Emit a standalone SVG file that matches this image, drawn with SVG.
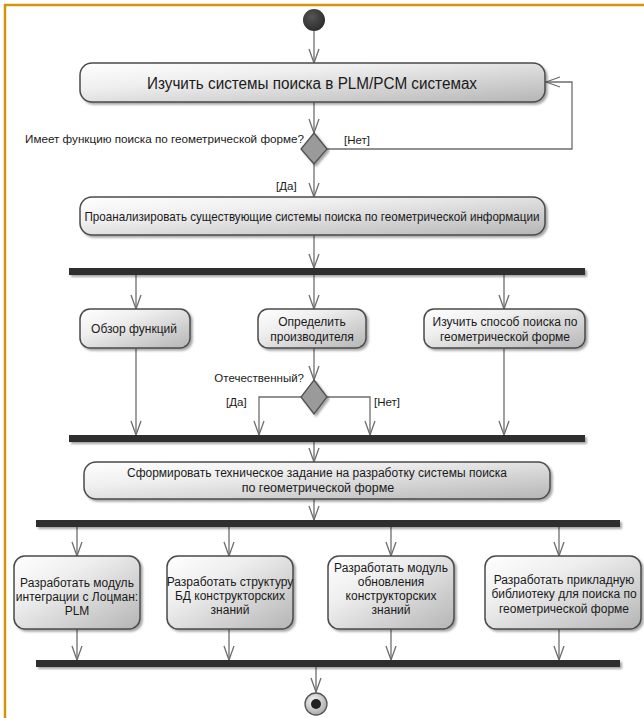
<svg xmlns="http://www.w3.org/2000/svg" width="644" height="718" viewBox="0 0 644 718">
<style>
.box{fill:url(#boxGrad);stroke:#4a4a4a;stroke-width:1.5;filter:url(#shadow)}
.bar{fill:#2f2f2f;filter:url(#shadow)}
.dia{fill:#9a9a9a;stroke:#505050;stroke-width:1.3;filter:url(#shadow)}
.conn{fill:none;stroke:#6e6e6e;stroke-width:1.3;marker-end:url(#arr)}
text{font-family:"Liberation Sans",Arial,sans-serif;fill:#1a1a1a}
.t{font-size:12px;text-anchor:middle}
.lbl{font-size:11.5px}
</style>
<defs>
<linearGradient id="boxGrad" x1="0" y1="0" x2="1" y2="1">
<stop offset="0" stop-color="#ffffff"/>
<stop offset="0.35" stop-color="#eeeeee"/>
<stop offset="1" stop-color="#b5b5b5"/>
</linearGradient>
<radialGradient id="startGrad" cx="0.4" cy="0.35" r="0.7">
<stop offset="0" stop-color="#555"/>
<stop offset="1" stop-color="#2a2a2a"/>
</radialGradient>
<radialGradient id="endGrad" cx="0.4" cy="0.35" r="0.7">
<stop offset="0" stop-color="#f4f4f4"/>
<stop offset="1" stop-color="#a8a8a8"/>
</radialGradient>
<filter id="shadow" x="-10%" y="-30%" width="120%" height="180%">
<feDropShadow dx="2" dy="2" stdDeviation="1.2" flood-color="#000" flood-opacity="0.35"/>
</filter>
<marker id="arr" markerUnits="userSpaceOnUse" viewBox="0 0 16 12" refX="15" refY="6" markerWidth="16" markerHeight="12" orient="auto">
<path d="M1,1 L15,6 L1,11" fill="none" stroke="#6e6e6e" stroke-width="1.3"/>
</marker>
</defs>

<rect width="644" height="718" fill="#ffffff"/>
<g id="frame" fill="none" stroke="#d4950c" stroke-width="2.5">
<line x1="4" y1="5" x2="644" y2="5"/>
<line x1="5" y1="4" x2="5" y2="718"/>
</g>

<g id="connectors">
<path class="conn" d="M314,31 V63"/>
<path class="conn" d="M314,102 V133"/>
<path class="conn" d="M327,149 H572 V82 H546"/>
<path class="conn" d="M314,163 V197"/>
<path class="conn" d="M314,235 V268"/>
<path class="conn" d="M136,275 V309"/>
<path class="conn" d="M314,275 V309"/>
<path class="conn" d="M504,275 V309"/>
<path class="conn" d="M136,348 V435"/>
<path class="conn" d="M504,348 V435"/>
<path class="conn" d="M314,348 V380"/>
<path class="conn" d="M301,397 H259 V435"/>
<path class="conn" d="M327,397 H370 V435"/>
<path class="conn" d="M314,442 V462"/>
<path class="conn" d="M314,499 V520"/>
<path class="conn" d="M77,527 V556"/>
<path class="conn" d="M229,527 V556"/>
<path class="conn" d="M391,527 V556"/>
<path class="conn" d="M559,527 V556"/>
<path class="conn" d="M77,629 V660"/>
<path class="conn" d="M229,629 V660"/>
<path class="conn" d="M391,629 V660"/>
<path class="conn" d="M559,629 V660"/>
<path class="conn" d="M316,667 V692"/>
<text class="lbl" x="304" y="143" text-anchor="end" textLength="279" lengthAdjust="spacingAndGlyphs">Имеет функцию поиска по геометрической форме?</text>
<text class="lbl" x="344" y="144">[Нет]</text>
<text class="lbl" x="276" y="190">[Да]</text>
<text class="lbl" x="304" y="382" text-anchor="end">Отечественный?</text>
<text class="lbl" x="226" y="406">[Да]</text>
<text class="lbl" x="374" y="406">[Нет]</text>
</g>

<g id="start">
<circle cx="314" cy="20" r="11" fill="url(#startGrad)"/>
</g>

<g id="study-plm">
<rect class="box" x="80" y="63" width="465" height="39" rx="12"/>
<text class="t" x="312" y="89" style="font-size:16px" textLength="330" lengthAdjust="spacingAndGlyphs">Изучить системы поиска в PLM/PCM системах</text>
</g>

<g id="decision-geom">
<polygon class="dia" points="314,133 327,149 314,164 301,149"/>
</g>

<g id="analyze">
<rect class="box" x="80" y="197" width="465" height="38" rx="12"/>
<text class="t" x="312" y="221" style="font-size:13px" textLength="455" lengthAdjust="spacingAndGlyphs">Проанализировать существующие системы поиска по геометрической информации</text>
</g>

<g id="fork1"><rect class="bar" x="69" y="268" width="516" height="7"/></g>

<g id="review">
<rect class="box" x="80" y="309" width="110" height="39" rx="10"/>
<text class="t" x="134" y="333">Обзор функций</text>
</g>

<g id="vendor">
<rect class="box" x="258" y="309" width="108" height="39" rx="10"/>
<text class="t" x="312" y="326">Определить</text>
<text class="t" x="312" y="341">производителя</text>
</g>

<g id="study-method">
<rect class="box" x="424" y="309" width="161" height="39" rx="10"/>
<text class="t" x="505" y="326">Изучить способ поиска по</text>
<text class="t" x="505" y="341">геометрической форме</text>
</g>

<g id="decision-domestic">
<polygon class="dia" points="314,380 327,397 314,414 301,397"/>
</g>

<g id="join1"><rect class="bar" x="69" y="435" width="516" height="7"/></g>

<g id="spec">
<rect class="box" x="84" y="462" width="466" height="37" rx="12"/>
<text class="t" x="317" y="477" style="font-size:12.5px" textLength="380" lengthAdjust="spacingAndGlyphs">Сформировать техническое задание на разработку системы поиска</text>
<text class="t" x="318" y="492" style="font-size:12.5px">по геометрической форме</text>
</g>

<g id="fork2"><rect class="bar" x="36" y="520" width="584" height="7"/></g>

<g id="dev-integration">
<rect class="box" x="14" y="556" width="126" height="73" rx="11"/>
<text class="t" x="77" y="587">Разработать модуль</text>
<text class="t" x="77" y="601">интеграции с Лоцман:</text>
<text class="t" x="77" y="615">PLM</text>
</g>

<g id="dev-db">
<rect class="box" x="167" y="556" width="126" height="73" rx="11"/>
<text class="t" x="230" y="586">Разработать структуру</text>
<text class="t" x="230" y="600">БД конструкторских</text>
<text class="t" x="230" y="614">знаний</text>
</g>

<g id="dev-update">
<rect class="box" x="328" y="556" width="126" height="73" rx="11"/>
<text class="t" x="391" y="572">Разработать модуль</text>
<text class="t" x="391" y="586">обновления</text>
<text class="t" x="391" y="600">конструкторских</text>
<text class="t" x="391" y="614">знаний</text>
</g>

<g id="dev-library">
<rect class="box" x="485" y="556" width="156" height="73" rx="11"/>
<text class="t" x="564" y="584">Разработать прикладную</text>
<text class="t" x="564" y="598">библиотеку для поиска по</text>
<text class="t" x="564" y="613">геометрической форме</text>
</g>

<g id="join2"><rect class="bar" x="36" y="660" width="584" height="7"/></g>

<g id="end">
<circle cx="316" cy="704" r="11" fill="url(#endGrad)" stroke="#555" stroke-width="1.3"/>
<circle cx="316" cy="704" r="5" fill="#222"/>
</g>
</svg>
